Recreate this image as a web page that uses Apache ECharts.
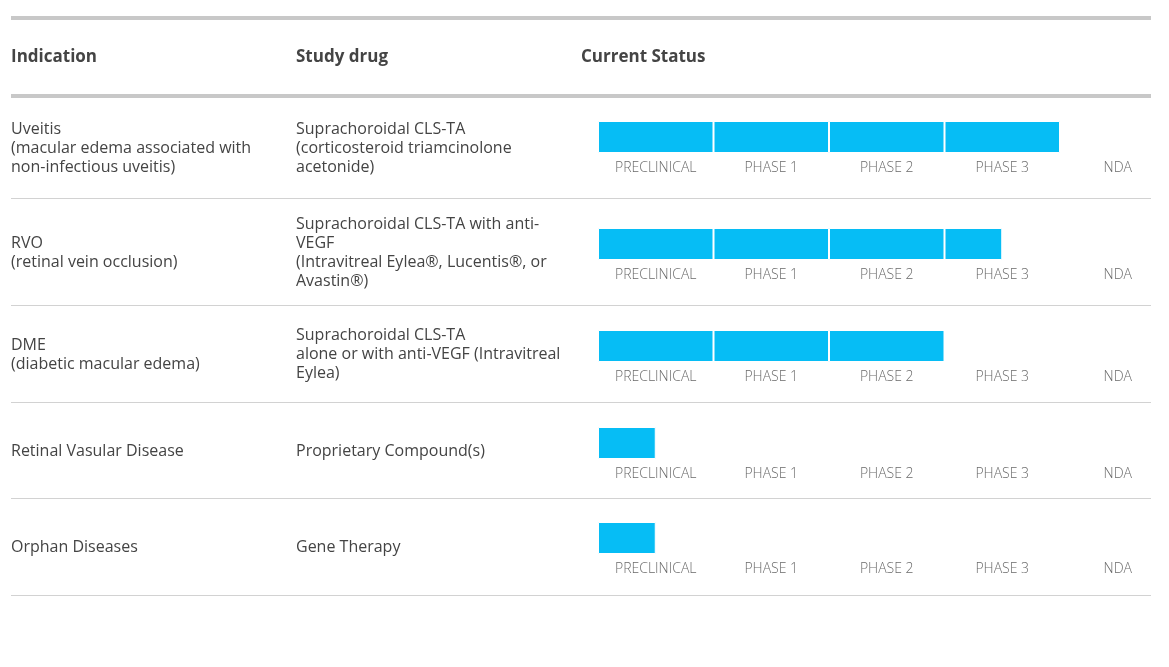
<!DOCTYPE html>
<html>
<head>
<meta charset="utf-8">
<script src="https://cdn.jsdelivr.net/npm/echarts@6/dist/echarts.min.js"></script>
<style>
  html, body { margin: 0; padding: 0; background: #fff; overflow: hidden; }
  #main { width: 1180px; height: 667px; }
</style>
</head>
<body>
<div id="main"></div>
<script>
// pipeline data
var headers = ['Indication', 'Study drug', 'Current Status'];
var phases = ['PRECLINICAL', 'PHASE 1', 'PHASE 2', 'PHASE 3', 'NDA'];
var indications = [
    'Uveitis\n(macular edema associated with\nnon-infectious uveitis)',
    'RVO\n(retinal vein occlusion)',
    'DME\n(diabetic macular edema)',
    'Retinal Vasular Disease',
    'Orphan Diseases'
];
var drugs = [
    'Suprachoroidal CLS-TA\n(corticosteroid triamcinolone\nacetonide)',
    'Suprachoroidal CLS-TA with anti-\nVEGF\n(Intravitreal Eylea®, Lucentis®, or\nAvastin®)',
    'Suprachoroidal CLS-TA\nalone or with anti-VEGF (Intravitreal\nEylea)',
    'Proprietary Compound(s)',
    'Gene Therapy'
];
// how far along the phases each program is (1 = one full phase)
var progress = [4, 3.5, 3, 0.5, 0.5];

// layout
var FONT = '"Open Sans", "Noto Sans", sans-serif';
var rowLines = [96, 198, 305, 402, 498, 595];
var barTops = [122, 229, 331, 428, 523];
var barH = 32;
var colX = [11, 296, 581];

var grids = [], xAxes = [], yAxes = [], series = [], graphics = [];

barTops.forEach(function (top, r) {
    grids.push({ left: 598, top: top - 1, width: 577.5, height: barH });
    xAxes.push({
        type: 'value', gridIndex: r, min: 0, max: phases.length,
        show: false
    });
    xAxes.push({
        type: 'category', gridIndex: r, data: phases, position: 'bottom',
        axisLine: { show: false }, axisTick: { show: false },
        splitLine: { show: false },
        axisLabel: { color: '#6a6a6a', fontSize: 14, fontFamily: FONT, fontWeight: 300, margin: 8 }
    });
    yAxes.push({ type: 'category', gridIndex: r, data: [''], show: false });
    phases.forEach(function (p, i) {
        var v = Math.max(0, Math.min(1, progress[r] - i));
        series.push({
            type: 'bar', name: p, stack: 'row' + r,
            xAxisIndex: r * 2, yAxisIndex: r,
            barWidth: barH, silent: true,
            itemStyle: { color: '#06bdf5', borderColor: '#fff', borderWidth: v > 0 ? 1 : 0 },
            data: [v]
        });
    });
});

// table rules
graphics.push({ type: 'rect', shape: { x: 11, y: 16, width: 1140, height: 4 }, style: { fill: '#c8c8c8' } });
graphics.push({ type: 'rect', shape: { x: 11, y: 94, width: 1140, height: 4 }, style: { fill: '#c8c8c8' } });
rowLines.slice(1).forEach(function (y) {
    graphics.push({ type: 'rect', shape: { x: 11, y: y, width: 1140, height: 1 }, style: { fill: '#d2d2d2' } });
});

// header
headers.forEach(function (h, i) {
    graphics.push({
        type: 'text', x: colX[i], y: 57,
        style: { text: h, fill: '#444', font: 'bold 17px ' + FONT, verticalAlign: 'middle' }
    });
});

// row text
indications.forEach(function (t, r) {
    var cy = (rowLines[r] + rowLines[r + 1]) / 2 + 1;
    [t, drugs[r]].forEach(function (txt, c) {
        graphics.push({
            type: 'text', x: colX[c], y: cy,
            style: { text: txt, fill: '#444', font: '16px ' + FONT, lineHeight: 19, verticalAlign: 'middle' }
        });
    });
});

var chart = echarts.init(document.getElementById('main'));
chart.setOption({
    animation: false,
    grid: grids,
    xAxis: xAxes,
    yAxis: yAxes,
    series: series,
    graphic: graphics
});
</script>
</body>
</html>
